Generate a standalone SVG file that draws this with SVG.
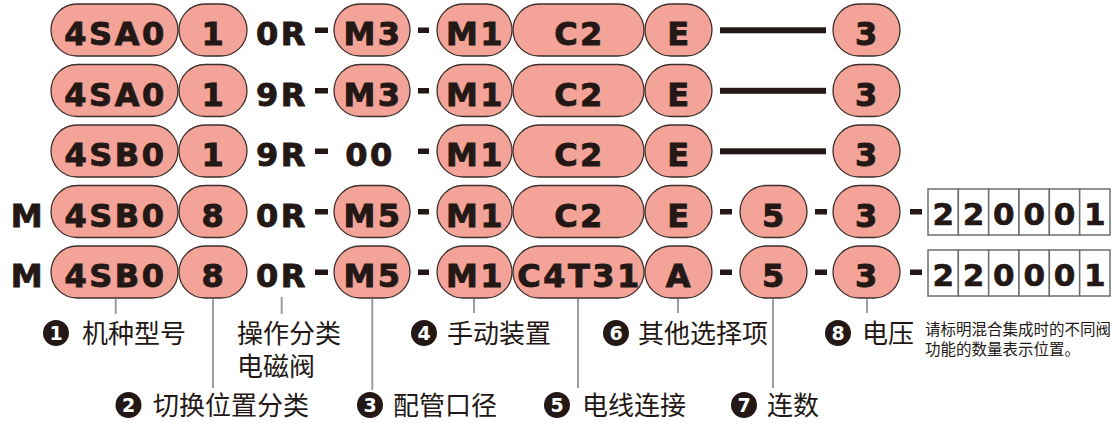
<svg xmlns="http://www.w3.org/2000/svg" width="1120" height="423" viewBox="0 0 1120 423">
<style>
.p{fill:#f3a397;stroke:#3d302c;stroke-width:1.3}
.t{font-family:"DejaVu Sans",sans-serif;font-weight:bold;font-size:32px;letter-spacing:2.5px;fill:#231815;stroke:#231815;stroke-width:0.9;text-anchor:middle}
.d{fill:#231815}
.c{fill:#fff;stroke:#6e6e6e;stroke-width:1.5}
.b{font-family:"DejaVu Sans",sans-serif;font-weight:bold;font-size:31px;fill:#231815;stroke:#231815;stroke-width:0.7;text-anchor:middle}
.ld{stroke:#9d9d9d;stroke-width:2;fill:none}
.cj{font-family:"Noto Sans CJK SC",sans-serif;font-size:26px;fill:#231815}
.sm{font-family:"Noto Sans CJK SC",sans-serif;font-size:15.5px;fill:#231815}
.cn{fill:#231815}
.cd{font-family:"DejaVu Sans",sans-serif;font-weight:bold;font-size:19px;fill:#fff;text-anchor:middle}
</style>
<defs>
<g id="box6">
<rect class="c" x="0" y="0" width="30.33" height="46"/>
<rect class="c" x="30.33" y="0" width="30.33" height="46"/>
<rect class="c" x="60.67" y="0" width="30.33" height="46"/>
<rect class="c" x="91" y="0" width="30.33" height="46"/>
<rect class="c" x="121.33" y="0" width="30.33" height="46"/>
<rect class="c" x="151.67" y="0" width="30.33" height="46"/>
<text class="b" x="15.2" y="36">2</text>
<text class="b" x="45.5" y="36">2</text>
<text class="b" x="75.8" y="36">0</text>
<text class="b" x="106.2" y="36">0</text>
<text class="b" x="136.5" y="36">0</text>
<text class="b" x="166.8" y="36">1</text>
</g>
</defs>

<g id="row1">
<rect class="p" x="51" y="4" width="127" height="52" rx="26"/><text class="t" x="115.5" y="45">4SA0</text>
<rect class="p" x="179" y="4" width="68" height="52" rx="26"/><text class="t" x="214" y="45">1</text>
<text class="t" x="282" y="45">0R</text>
<rect class="d" x="315" y="27.5" width="13" height="5.5"/>
<rect class="p" x="334" y="4" width="76" height="52" rx="26"/><text class="t" x="373" y="45">M3</text>
<rect class="d" x="418" y="27.5" width="11" height="5.5"/>
<rect class="p" x="437" y="4" width="75" height="52" rx="26"/><text class="t" x="475.5" y="45">M1</text>
<rect class="p" x="513" y="4" width="131" height="52" rx="26"/><text class="t" x="579.5" y="45">C2</text>
<rect class="p" x="645" y="4" width="67" height="52" rx="26"/><text class="t" x="679.5" y="45">E</text>
<rect class="d" x="720" y="27.3" width="106" height="6"/>
<rect class="p" x="833" y="4" width="67" height="52" rx="26"/><text class="t" x="867.5" y="45">3</text>
</g>

<g id="row2">
<rect class="p" x="51" y="64.5" width="127" height="52" rx="26"/><text class="t" x="115.5" y="105.5">4SA0</text>
<rect class="p" x="179" y="64.5" width="68" height="52" rx="26"/><text class="t" x="214" y="105.5">1</text>
<text class="t" x="282" y="105.5">9R</text>
<rect class="d" x="315" y="88" width="13" height="5.5"/>
<rect class="p" x="334" y="64.5" width="76" height="52" rx="26"/><text class="t" x="373" y="105.5">M3</text>
<rect class="d" x="418" y="88" width="11" height="5.5"/>
<rect class="p" x="437" y="64.5" width="75" height="52" rx="26"/><text class="t" x="475.5" y="105.5">M1</text>
<rect class="p" x="513" y="64.5" width="131" height="52" rx="26"/><text class="t" x="579.5" y="105.5">C2</text>
<rect class="p" x="645" y="64.5" width="67" height="52" rx="26"/><text class="t" x="679.5" y="105.5">E</text>
<rect class="d" x="720" y="87.8" width="106" height="6"/>
<rect class="p" x="833" y="64.5" width="67" height="52" rx="26"/><text class="t" x="867.5" y="105.5">3</text>
</g>

<g id="row3">
<rect class="p" x="51" y="125" width="127" height="52" rx="26"/><text class="t" x="115.5" y="166">4SB0</text>
<rect class="p" x="179" y="125" width="68" height="52" rx="26"/><text class="t" x="214" y="166">1</text>
<text class="t" x="282" y="166">9R</text>
<rect class="d" x="315" y="148.5" width="13" height="5.5"/>
<text class="t" x="370" y="166">00</text>
<rect class="d" x="418" y="148.5" width="11" height="5.5"/>
<rect class="p" x="437" y="125" width="75" height="52" rx="26"/><text class="t" x="475.5" y="166">M1</text>
<rect class="p" x="513" y="125" width="131" height="52" rx="26"/><text class="t" x="579.5" y="166">C2</text>
<rect class="p" x="645" y="125" width="67" height="52" rx="26"/><text class="t" x="679.5" y="166">E</text>
<rect class="d" x="720" y="148.3" width="106" height="6"/>
<rect class="p" x="833" y="125" width="67" height="52" rx="26"/><text class="t" x="867.5" y="166">3</text>
</g>

<g id="row4">
<text class="t" x="28" y="226.5">M</text>
<rect class="p" x="51" y="185.5" width="127" height="52" rx="26"/><text class="t" x="115.5" y="226.5">4SB0</text>
<rect class="p" x="179" y="185.5" width="68" height="52" rx="26"/><text class="t" x="214" y="226.5">8</text>
<text class="t" x="282" y="226.5">0R</text>
<rect class="d" x="315" y="209" width="13" height="5.5"/>
<rect class="p" x="334" y="185.5" width="76" height="52" rx="26"/><text class="t" x="373" y="226.5">M5</text>
<rect class="d" x="418" y="209" width="11" height="5.5"/>
<rect class="p" x="437" y="185.5" width="75" height="52" rx="26"/><text class="t" x="475.5" y="226.5">M1</text>
<rect class="p" x="513" y="185.5" width="131" height="52" rx="26"/><text class="t" x="579.5" y="226.5">C2</text>
<rect class="p" x="645" y="185.5" width="67" height="52" rx="26"/><text class="t" x="679.5" y="226.5">E</text>
<rect class="d" x="720" y="209" width="12" height="5.5"/>
<rect class="p" x="740" y="185.5" width="67" height="52" rx="26"/><text class="t" x="774.5" y="226.5">5</text>
<rect class="d" x="815" y="209" width="12" height="5.5"/>
<rect class="p" x="833" y="185.5" width="67" height="52" rx="26"/><text class="t" x="867.5" y="226.5">3</text>
<rect class="d" x="910" y="209" width="12" height="5.5"/>
<use href="#box6" x="928" y="189"/>
</g>

<g id="row5">
<text class="t" x="28" y="287">M</text>
<rect class="p" x="51" y="246" width="127" height="52" rx="26"/><text class="t" x="115.5" y="287">4SB0</text>
<rect class="p" x="179" y="246" width="68" height="52" rx="26"/><text class="t" x="214" y="287">8</text>
<text class="t" x="282" y="287">0R</text>
<rect class="d" x="315" y="269.5" width="13" height="5.5"/>
<rect class="p" x="334" y="246" width="76" height="52" rx="26"/><text class="t" x="373" y="287">M5</text>
<rect class="d" x="418" y="269.5" width="11" height="5.5"/>
<rect class="p" x="437" y="246" width="75" height="52" rx="26"/><text class="t" x="475.5" y="287">M1</text>
<rect class="p" x="513" y="246" width="131" height="52" rx="26"/><text class="t" x="579.5" y="287">C4T31</text>
<rect class="p" x="645" y="246" width="67" height="52" rx="26"/><text class="t" x="679.5" y="287">A</text>
<rect class="d" x="720" y="269.5" width="12" height="5.5"/>
<rect class="p" x="740" y="246" width="67" height="52" rx="26"/><text class="t" x="774.5" y="287">5</text>
<rect class="d" x="815" y="269.5" width="12" height="5.5"/>
<rect class="p" x="833" y="246" width="67" height="52" rx="26"/><text class="t" x="867.5" y="287">3</text>
<rect class="d" x="910" y="269.5" width="12" height="5.5"/>
<use href="#box6" x="928" y="250"/>
</g>

<g id="connectors">
<line class="ld" x1="115.7" y1="299" x2="115.7" y2="314"/>
<line class="ld" x1="213" y1="299" x2="213" y2="388"/>
<line class="ld" x1="281.7" y1="297" x2="281.7" y2="314"/>
<line class="ld" x1="372.3" y1="299" x2="372.3" y2="390"/>
<line class="ld" x1="474" y1="299" x2="474" y2="313"/>
<line class="ld" x1="578" y1="299" x2="578" y2="388"/>
<line class="ld" x1="678" y1="299" x2="678" y2="313"/>
<line class="ld" x1="773" y1="299" x2="773" y2="388"/>
<line class="ld" x1="867" y1="299" x2="867" y2="313"/>
</g>

<g id="label1"><circle class="cn" cx="56" cy="333" r="13"/><text class="cd" x="56" y="340">1</text><text class="cj" x="82" y="343">机种型号</text></g>
<g id="label-op"><text class="cj"><tspan x="237" y="343">操作分类</tspan><tspan x="237" y="376">电磁阀</tspan></text></g>
<g id="label2"><circle class="cn" cx="128.5" cy="405" r="13"/><text class="cd" x="128.5" y="412">2</text><text class="cj" x="153" y="415">切换位置分类</text></g>
<g id="label3"><circle class="cn" cx="370" cy="405" r="13"/><text class="cd" x="370" y="412">3</text><text class="cj" x="393" y="415">配管口径</text></g>
<g id="label4"><circle class="cn" cx="424" cy="333" r="13"/><text class="cd" x="424" y="340">4</text><text class="cj" x="447" y="343">手动装置</text></g>
<g id="label5"><circle class="cn" cx="557" cy="405" r="13"/><text class="cd" x="557" y="412">5</text><text class="cj" x="582" y="415">电线连接</text></g>
<g id="label6"><circle class="cn" cx="616" cy="333" r="13"/><text class="cd" x="616" y="340">6</text><text class="cj" x="638" y="343">其他选择项</text></g>
<g id="label7"><circle class="cn" cx="744" cy="405" r="13"/><text class="cd" x="744" y="412">7</text><text class="cj" x="767" y="415">连数</text></g>
<g id="label8"><circle class="cn" cx="838" cy="333" r="13"/><text class="cd" x="838" y="340">8</text><text class="cj" x="862" y="343">电压</text>
<text class="sm" x="925" y="335">请标明混合集成时的不同阀</text><text class="sm" x="925" y="355">功能的数量表示位置。</text></g>
</svg>
